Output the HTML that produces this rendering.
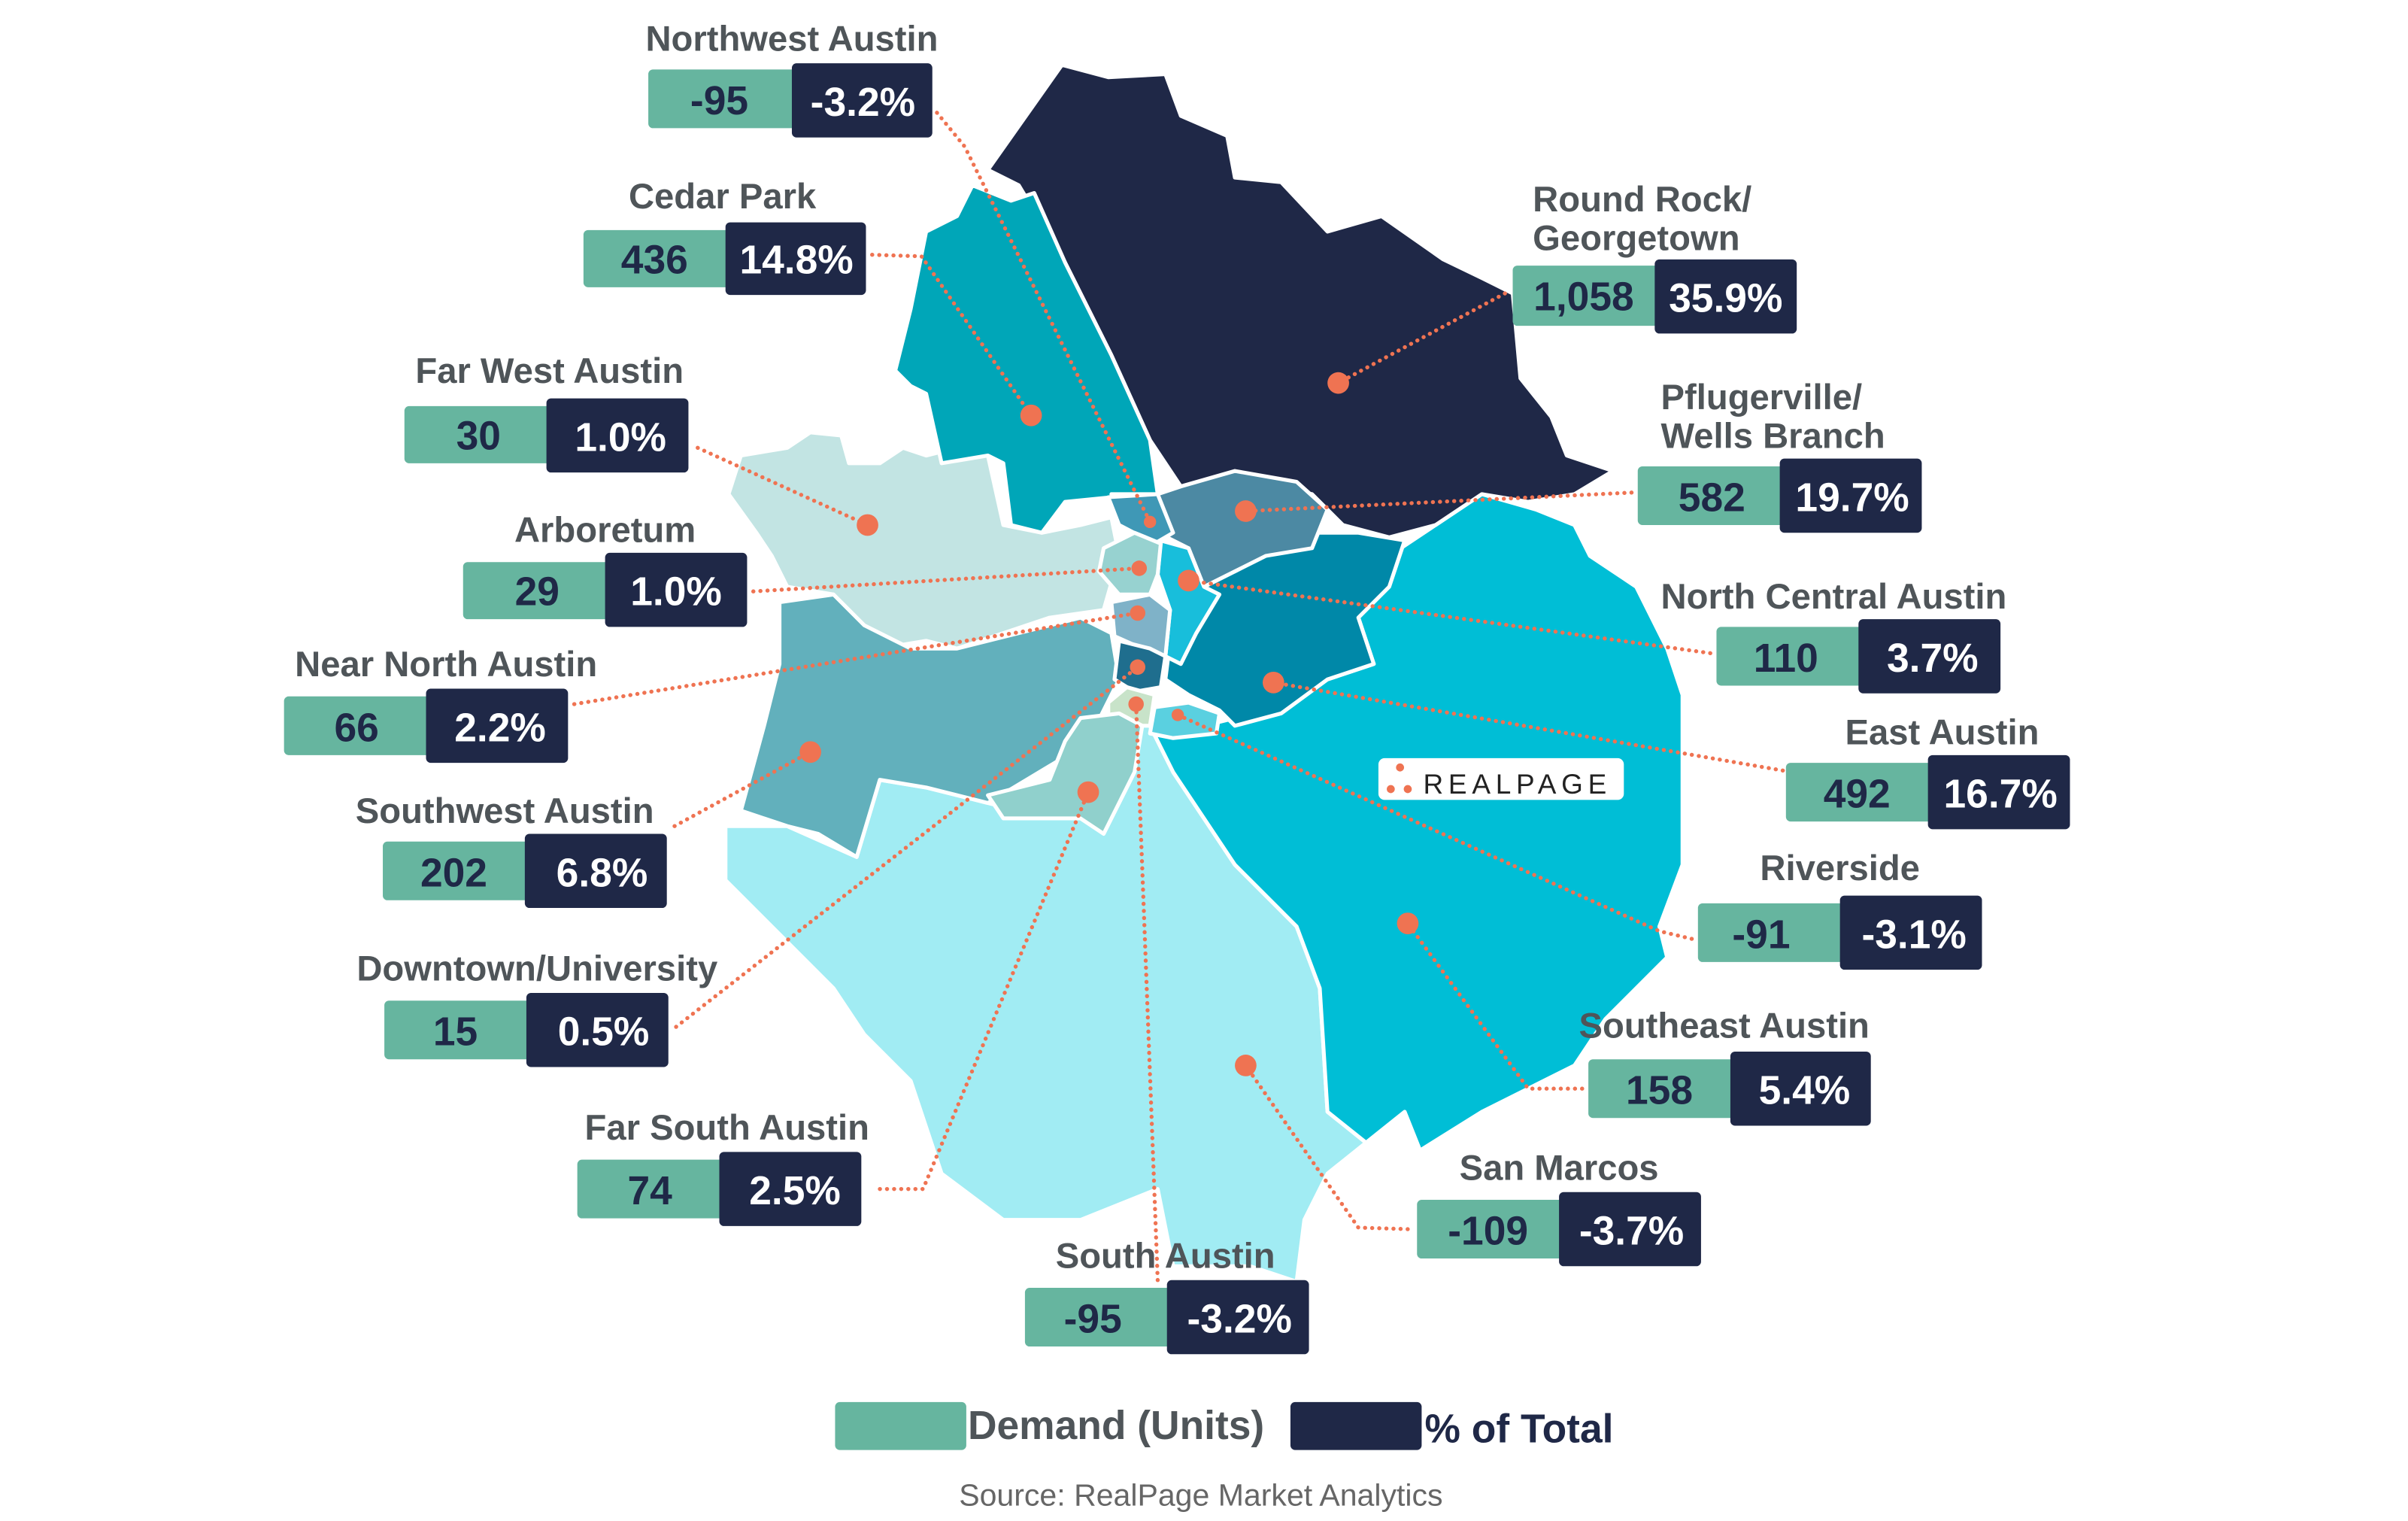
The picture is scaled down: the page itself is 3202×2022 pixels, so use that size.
<!DOCTYPE html>
<html><head><meta charset="utf-8"><style>
html,body{margin:0;padding:0;background:#fff;}
svg{display:block;}
.t{font-family:"Liberation Sans",sans-serif;font-weight:bold;font-size:23px;fill:#4f5559;}
.g{font-family:"Liberation Sans",sans-serif;font-weight:bold;font-size:26px;fill:#1f2847;text-anchor:middle;}
.n{font-family:"Liberation Sans",sans-serif;font-weight:bold;font-size:26px;fill:#fff;text-anchor:middle;}
.ln{fill:none;stroke:#ef7352;stroke-width:2.6;stroke-dasharray:0.1 4.5;stroke-linecap:round;}
.r{stroke:#fff;stroke-width:2.5;stroke-linejoin:round;}
.d{fill:#ef7352;}
</style></head><body>
<svg width="3202" height="2022" viewBox="0 0 1560 985" preserveAspectRatio="none" xmlns="http://www.w3.org/2000/svg">
<!-- map regions -->
<polygon class="r" fill="#a1ecf3" points="470,535 510,535 555,555 570,505 600,510 640,520 660,525 700,520 735,490 740,460 760,500 800,560 840,600 855,640 860,720 885,740 860,760 845,790 840,830 810,820 760,820 750,770 700,790 650,790 610,760 590,700 560,670 540,640 500,600 470,570"/>
<polygon class="r" fill="#00bed6" points="740,460 780,470 820,460 860,440 890,430 880,400 900,360 930,340 960,320 995,330 1020,340 1030,360 1060,380 1080,420 1090,450 1090,560 1075,600 1080,620 1040,660 1020,690 1000,700 960,720 920,745 910,720 885,740 860,720 855,640 840,600 800,560 760,500"/>
<polygon class="r" fill="#c2e4e3" points="472,320 480,295 510,290 525,280 545,282 550,300 570,300 585,290 600,295 620,290 640,295 650,340 675,345 700,340 720,335 725,360 715,395 680,400 650,410 620,420 600,415 570,420 550,400 540,385 510,380 500,360 490,345"/>
<polygon class="r" fill="#62b0bc" points="505,390 540,385 560,405 590,420 620,420 660,410 700,400 720,410 725,440 710,470 690,490 665,505 640,520 600,510 570,505 555,555 530,540 510,535 480,525 495,470 505,430"/>
<polygon class="r" fill="#1f2847" points="640,110 688,42 718,50 755,48 765,75 795,88 800,115 830,118 860,150 895,140 935,168 960,180 980,190 985,245 1005,270 1015,295 1045,305 1020,320 990,325 960,320 930,340 900,348 870,340 850,320 800,310 765,315 745,285 720,230 690,170 660,120"/>
<polygon class="r" fill="#00a6b8" points="600,150 620,140 630,120 655,130 670,125 690,170 720,230 745,285 750,320 720,322 690,325 675,345 655,340 650,300 640,295 610,300 600,255 590,250 580,240 590,200"/>
<polygon class="r" fill="#0088a8" points="760,400 780,380 800,370 820,360 850,345 880,345 910,350 900,380 880,400 890,430 860,440 830,462 800,470 790,460 770,450 755,440"/>
<polygon class="r" fill="#4c89a3" points="720,320 750,320 765,315 800,305 840,312 860,330 850,355 820,360 800,370 780,380 770,355 750,345 725,340"/>
<polygon class="r" fill="#3f98b6" points="718,322 750,320 760,345 748,352 725,340"/>
<polygon class="r" fill="#18bedb" points="752,350 770,355 780,380 790,385 775,410 765,430 755,425 758,395 750,372"/>
<polygon class="r" fill="#97d2d0" points="715,355 735,345 752,352 750,372 745,385 725,385 712,370"/>
<polygon class="r" fill="#7fb2c8" points="720,390 745,385 758,395 755,425 740,420 722,412"/>
<polygon class="r" fill="#1f6e8e" points="725,415 745,420 755,425 752,445 735,448 722,440"/>
<polygon class="r" fill="#c8e3c9" points="718,455 730,445 748,450 745,470 730,470 718,465"/>
<polygon class="r" fill="#5ad0e0" points="748,458 770,455 790,462 788,475 760,478 745,475"/>
<polygon class="r" fill="#90d0cc" points="700,465 725,462 740,470 735,500 715,540 700,530 650,530 640,515 680,505 690,480"/>
<!-- leader lines -->
<polyline class="ln" points="607,73 625,95 745,338"/>
<polyline class="ln" points="565,165 597,166 668,269"/>
<polyline class="ln" points="975,190 867,248"/>
<polyline class="ln" points="452,290 562,340"/>
<polyline class="ln" points="1057,319 807,331"/>
<polyline class="ln" points="488,383 738,368"/>
<polyline class="ln" points="1108,423 770,376"/>
<polyline class="ln" points="372,456 737,397"/>
<polyline class="ln" points="1155,499 825,442"/>
<polyline class="ln" points="437,535 525,487"/>
<polyline class="ln" points="1096,608 1075,603 763,463"/>
<polyline class="ln" points="438,665 737,432"/>
<polyline class="ln" points="1025,705 990,705 912,598"/>
<polyline class="ln" points="570,770 598,770 705,513"/>
<polyline class="ln" points="912,796 880,795 807,690"/>
<polyline class="ln" points="750,829 736,456"/>
<!-- dots -->
<circle class="d" cx="745" cy="338" r="4"/><circle class="d" cx="668" cy="269" r="7"/>
<circle class="d" cx="867" cy="248" r="7"/><circle class="d" cx="562" cy="340" r="7"/>
<circle class="d" cx="807" cy="331" r="7"/><circle class="d" cx="738" cy="368" r="5"/>
<circle class="d" cx="770" cy="376" r="7"/><circle class="d" cx="737" cy="397" r="5"/>
<circle class="d" cx="825" cy="442" r="7"/><circle class="d" cx="525" cy="487" r="7"/>
<circle class="d" cx="737" cy="432" r="5"/><circle class="d" cx="763" cy="463" r="4"/>
<circle class="d" cx="912" cy="598" r="7"/><circle class="d" cx="705" cy="513" r="7"/>
<circle class="d" cx="736" cy="456" r="5"/><circle class="d" cx="807" cy="690" r="7"/>
<!-- RealPage logo -->
<rect x="893" y="491" width="159" height="27" rx="4" fill="#fff"/>
<circle cx="907" cy="497" r="2.6" fill="#ef7352"/><circle cx="901" cy="511" r="2.6" fill="#ef7352"/><circle cx="912" cy="511" r="2.6" fill="#ef7352"/>
<text x="922" y="514" font-family="Liberation Sans,sans-serif" font-size="18" fill="#222" letter-spacing="3.3">REALPAGE</text>
<!-- labels -->
<g>
<text class="t" x="513" y="33" text-anchor="middle">Northwest Austin</text>
<rect x="420" y="45" width="97" height="38" rx="3" fill="#66b59f"/><rect x="513" y="41" width="91" height="48" rx="3" fill="#1f2847"/>
<text class="g" x="466" y="74">-95</text><text class="n" x="559" y="75">-3.2%</text>

<text class="t" x="468" y="135" text-anchor="middle">Cedar Park</text>
<rect x="378" y="149" width="96" height="37" rx="3" fill="#66b59f"/><rect x="470" y="144" width="91" height="47" rx="3" fill="#1f2847"/>
<text class="g" x="424" y="177">436</text><text class="n" x="516" y="177">14.8%</text>

<text class="t" x="993" y="137">Round Rock/</text><text class="t" x="993" y="162">Georgetown</text>
<rect x="980" y="172" width="96" height="39" rx="3" fill="#66b59f"/><rect x="1072" y="168" width="92" height="48" rx="3" fill="#1f2847"/>
<text class="g" x="1026" y="201">1,058</text><text class="n" x="1118" y="202">35.9%</text>

<text class="t" x="356" y="248" text-anchor="middle">Far West Austin</text>
<rect x="262" y="263" width="96" height="37" rx="3" fill="#66b59f"/><rect x="354" y="258" width="92" height="48" rx="3" fill="#1f2847"/>
<text class="g" x="310" y="291">30</text><text class="n" x="402" y="292">1.0%</text>

<text class="t" x="1076" y="265">Pflugerville/</text><text class="t" x="1076" y="290">Wells Branch</text>
<rect x="1061" y="302" width="96" height="38" rx="3" fill="#66b59f"/><rect x="1153" y="297" width="92" height="48" rx="3" fill="#1f2847"/>
<text class="g" x="1109" y="331">582</text><text class="n" x="1200" y="331">19.7%</text>

<text class="t" x="392" y="351" text-anchor="middle">Arboretum</text>
<rect x="300" y="364" width="96" height="37" rx="3" fill="#66b59f"/><rect x="392" y="358" width="92" height="48" rx="3" fill="#1f2847"/>
<text class="g" x="348" y="392">29</text><text class="n" x="438" y="392">1.0%</text>

<text class="t" x="1076" y="394">North Central Austin</text>
<rect x="1112" y="406" width="96" height="38" rx="3" fill="#66b59f"/><rect x="1204" y="401" width="92" height="48" rx="3" fill="#1f2847"/>
<text class="g" x="1157" y="435">110</text><text class="n" x="1252" y="435">3.7%</text>

<text class="t" x="289" y="438" text-anchor="middle">Near North Austin</text>
<rect x="184" y="451" width="96" height="38" rx="3" fill="#66b59f"/><rect x="276" y="446" width="92" height="48" rx="3" fill="#1f2847"/>
<text class="g" x="231" y="480">66</text><text class="n" x="324" y="480">2.2%</text>

<text class="t" x="1321" y="482" text-anchor="end">East Austin</text>
<rect x="1157" y="494" width="96" height="38" rx="3" fill="#66b59f"/><rect x="1249" y="489" width="92" height="48" rx="3" fill="#1f2847"/>
<text class="g" x="1203" y="523">492</text><text class="n" x="1296" y="523">16.7%</text>

<text class="t" x="327" y="533" text-anchor="middle">Southwest Austin</text>
<rect x="248" y="545" width="96" height="38" rx="3" fill="#66b59f"/><rect x="340" y="540" width="92" height="48" rx="3" fill="#1f2847"/>
<text class="g" x="294" y="574">202</text><text class="n" x="390" y="574">6.8%</text>

<text class="t" x="1192" y="570" text-anchor="middle">Riverside</text>
<rect x="1100" y="585" width="96" height="38" rx="3" fill="#66b59f"/><rect x="1192" y="580" width="92" height="48" rx="3" fill="#1f2847"/>
<text class="g" x="1141" y="614">-91</text><text class="n" x="1240" y="614">-3.1%</text>

<text class="t" x="348" y="635" text-anchor="middle">Downtown/University</text>
<rect x="249" y="648" width="96" height="38" rx="3" fill="#66b59f"/><rect x="341" y="643" width="92" height="48" rx="3" fill="#1f2847"/>
<text class="g" x="295" y="677">15</text><text class="n" x="391" y="677">0.5%</text>

<text class="t" x="1117" y="672" text-anchor="middle">Southeast Austin</text>
<rect x="1029" y="686" width="96" height="38" rx="3" fill="#66b59f"/><rect x="1121" y="681" width="91" height="48" rx="3" fill="#1f2847"/>
<text class="g" x="1075" y="715">158</text><text class="n" x="1169" y="715">5.4%</text>

<text class="t" x="471" y="738" text-anchor="middle">Far South Austin</text>
<rect x="374" y="751" width="96" height="38" rx="3" fill="#66b59f"/><rect x="466" y="746" width="92" height="48" rx="3" fill="#1f2847"/>
<text class="g" x="421" y="780">74</text><text class="n" x="515" y="780">2.5%</text>

<text class="t" x="1010" y="764" text-anchor="middle">San Marcos</text>
<rect x="918" y="777" width="96" height="38" rx="3" fill="#66b59f"/><rect x="1010" y="772" width="92" height="48" rx="3" fill="#1f2847"/>
<text class="g" x="964" y="806">-109</text><text class="n" x="1057" y="806">-3.7%</text>

<text class="t" x="755" y="821" text-anchor="middle">South Austin</text>
<rect x="664" y="834" width="96" height="38" rx="3" fill="#66b59f"/><rect x="756" y="829" width="92" height="48" rx="3" fill="#1f2847"/>
<text class="g" x="708" y="863">-95</text><text class="n" x="803" y="863">-3.2%</text>
</g>
<!-- legend -->
<rect x="541" y="908" width="85" height="31" rx="3" fill="#66b59f"/>
<text x="627" y="932" font-family="Liberation Sans,sans-serif" font-weight="bold" font-size="26" fill="#4f5559">Demand (Units)</text>
<rect x="836" y="908" width="85" height="31" rx="3" fill="#1f2847"/>
<text x="923" y="934" font-family="Liberation Sans,sans-serif" font-weight="bold" font-size="26" fill="#1f2847">% of Total</text>
<text x="778" y="975" text-anchor="middle" font-family="Liberation Sans,sans-serif" font-size="20" fill="#666">Source: RealPage Market Analytics</text>
</svg>
</body></html>
